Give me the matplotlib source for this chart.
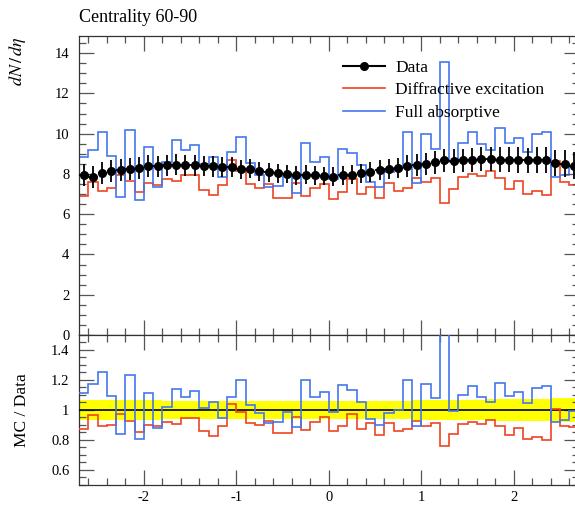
import matplotlib
matplotlib.use("Agg")
import matplotlib.pyplot as plt
import numpy as np
from matplotlib.ticker import MultipleLocator, FuncFormatter
from matplotlib.lines import Line2D

plt.rcParams["font.family"] = "Liberation Serif"
plt.rcParams["mathtext.fontset"] = "stix"
plt.rcParams["axes.unicode_minus"] = False

# eta binning: 54 bins of width 0.1
eta_edges = np.linspace(-2.7, 2.7, 55)
eta_mid = 0.5 * (eta_edges[:-1] + eta_edges[1:])

# measured dN/deta and its uncertainty
data_vals = [7.93, 7.83, 8.03, 8.13, 8.19, 8.26, 8.29, 8.39, 8.37, 8.42, 8.46, 8.42, 8.42, 8.39, 8.37, 8.34, 8.36, 8.23,
             8.26, 8.13, 8.09, 8.03, 7.99, 7.93, 7.96, 7.93, 7.89, 7.86, 7.93, 7.96, 8.03, 8.09, 8.19, 8.26, 8.29, 8.39,
             8.44, 8.51, 8.57, 8.67, 8.64, 8.67, 8.71, 8.74, 8.74, 8.71, 8.71, 8.71, 8.67, 8.71, 8.71, 8.54, 8.51, 8.41]
data_err = [0.55, 0.54, 0.55, 0.55, 0.55, 0.55, 0.54, 0.54, 0.54, 0.53, 0.53, 0.52, 0.52, 0.51, 0.50, 0.49, 0.49, 0.48,
            0.48, 0.47, 0.47, 0.46, 0.46, 0.46, 0.46, 0.46, 0.46, 0.46, 0.46, 0.47, 0.47, 0.48, 0.49, 0.50, 0.51, 0.53,
            0.54, 0.55, 0.56, 0.57, 0.58, 0.59, 0.60, 0.61, 0.62, 0.62, 0.63, 0.64, 0.64, 0.65, 0.65, 0.66, 0.66, 0.66]

# MC predictions
diffractive = [6.90, 7.59, 7.17, 7.31, 7.97, 7.65, 7.09, 7.54, 7.47, 7.74, 7.65, 7.95, 7.95, 7.21, 6.93, 7.45, 8.69, 8.14,
               7.52, 7.31, 7.48, 6.81, 6.78, 7.54, 6.89, 7.29, 7.50, 6.77, 7.08, 7.75, 7.00, 7.37, 6.80, 7.57, 7.14, 7.32,
               7.82, 7.60, 7.81, 6.57, 7.25, 7.86, 8.01, 7.92, 8.15, 7.78, 7.25, 7.67, 7.01, 7.15, 6.96, 8.62, 7.60, 7.43]
absorptive = [8.82, 9.18, 10.08, 8.89, 6.87, 10.20, 6.70, 9.36, 7.37, 8.57, 9.67, 9.17, 9.46, 8.48, 8.84, 7.87, 9.07, 9.85,
              8.55, 7.95, 7.37, 7.38, 7.90, 7.04, 9.56, 8.60, 8.84, 7.73, 9.25, 9.03, 8.44, 7.60, 7.36, 8.11, 8.29, 10.07,
              7.54, 9.99, 9.24, 13.55, 8.58, 9.55, 10.08, 9.47, 9.19, 10.30, 9.55, 9.78, 9.09, 9.96, 10.08, 7.85, 7.94, 8.38]

data = np.array(data_vals)
err = np.array(data_err)
mc = {"Diffractive excitation": (np.array(diffractive), "#ee4422"),
      "Full absorptive": (np.array(absorptive), "#4477ee")}

fig = plt.figure(figsize=(5.75, 5.07), dpi=100)
ax = fig.add_axes([0.1374, 0.3393, 0.8687, 0.5897])
rax = fig.add_axes([0.1374, 0.0434, 0.8687, 0.2959], sharex=ax)

# main panel
for label, (vals, col) in mc.items():
    ax.stairs(vals, eta_edges, baseline=None, color=col, lw=1.2, label=label)
ax.errorbar(eta_mid, data, yerr=err, xerr=0.05, fmt="o", color="black", ms=5.5,
            elinewidth=1.3, capsize=0, zorder=5)

ax.set_xlim(-2.7, 2.7)
ax.set_ylim(0, 14.85)
ax.yaxis.set_major_locator(MultipleLocator(2))
ax.yaxis.set_minor_locator(MultipleLocator(0.5))
ax.tick_params(labelbottom=False)
ax.set_title("Centrality 60-90", loc="left", fontsize=13, pad=10)

handles = [Line2D([], [], color="black", marker="o", ms=5.5, lw=1.5)]
handles += [Line2D([], [], color=col, lw=1.2) for vals, col in mc.values()]
ax.legend(handles, ["Data"] + list(mc.keys()), loc="upper left", frameon=False,
          bbox_to_anchor=(343 / 575, 1 - 60 / 507), bbox_transform=fig.transFigure,
          borderpad=0, borderaxespad=0, handlelength=2.4, handletextpad=0.6,
          labelspacing=0.35, fontsize=12.5)

# ratio panel
for b in range(len(data)):
    rax.bar(eta_mid[b], 2 * err[b] / data[b], bottom=1 - err[b] / data[b], width=0.1,
            color="#ffff00", lw=0, zorder=1)
rax.stairs(data / data, eta_edges, baseline=None, color="black", lw=1.2, zorder=3)
for label, (vals, col) in mc.items():
    rax.stairs(vals / data, eta_edges, baseline=None, color=col, lw=1.2, zorder=4)

rax.set_ylim(0.5, 1.5)
rax.yaxis.set_major_locator(MultipleLocator(0.2))
rax.yaxis.set_minor_locator(MultipleLocator(0.05))
rax.yaxis.set_major_formatter(FuncFormatter(lambda v, p: f"{round(v, 2):g}"))
rax.xaxis.set_major_locator(MultipleLocator(1))
rax.xaxis.set_minor_locator(MultipleLocator(0.2))

for a in (ax, rax):
    for s in a.spines.values():
        s.set_color("#333333")
        s.set_linewidth(0.9)
    a.tick_params(which="both", direction="in", top=True, right=True,
                  color="#555555", labelsize=10.5)
    a.tick_params(which="major", length=11, width=0.9)
    a.tick_params(which="minor", length=5, width=0.9)
    a.tick_params(axis="y", pad=7)
    a.tick_params(axis="x", pad=4)

fig.text(17 / 575, 1 - 37 / 507, r"$dN\,/\,d\eta$", rotation=90, ha="center", va="top", fontsize=13)
fig.text(21.5 / 575, 1 - 410 / 507, "MC / Data", rotation=90, ha="center", va="center", fontsize=12.5)

fig.savefig("out.png", dpi=100)
